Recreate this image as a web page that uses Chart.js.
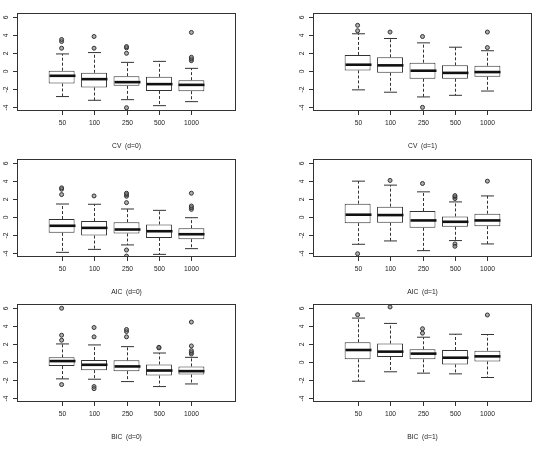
<!DOCTYPE html>
<html>
<head>
<meta charset="utf-8">
<script src="https://cdn.jsdelivr.net/npm/chart.js@4.4.1/dist/chart.umd.min.js"></script>
<style>
  html, body { margin: 0; padding: 0; background: #fff; }
  #wrap { position: relative; width: 538px; height: 449px; overflow: hidden; }
  canvas { position: absolute; }
</style>
</head>
<body>
<div id="wrap">
  <canvas id="p0" width="269" height="150" style="left:0;top:0"></canvas>
  <canvas id="p1" width="269" height="150" style="left:269px;top:0"></canvas>
  <canvas id="p2" width="269" height="150" style="left:0;top:146px"></canvas>
  <canvas id="p3" width="269" height="150" style="left:269px;top:146px"></canvas>
  <canvas id="p4" width="269" height="150" style="left:0;top:291px"></canvas>
  <canvas id="p5" width="269" height="150" style="left:269px;top:291px"></canvas>
</div>
<script>
// sample sizes on the x axis
const categories = ['50', '100', '250', '500', '1000'];
const yTicks = [-4, -2, 0, 2, 4, 6];
const titles = ['CV  (d=0)', 'CV  (d=1)', 'AIC  (d=0)', 'AIC  (d=1)', 'BIC  (d=0)', 'BIC  (d=1)'];

// each row: [lower whisker, q1, median, q3, upper whisker]
const cvD0Stats = [
  [-2.81, -1.37, -0.52, 0.04, 1.89],
  [-3.22, -1.81, -0.89, -0.19, 2.04],
  [-3.15, -1.63, -1.22, -0.56, 0.96],
  [-3.81, -2.19, -1.44, -0.63, 1.07],
  [-3.37, -2.22, -1.52, -1.00, 0.30]
];
const cvD0Outliers = [[2.52, 3.26, 3.48], [2.52, 3.81], [1.96, 2.56, 2.70, -4.04], [], [1.15, 1.33, 1.52, 4.26]];

const cvD1Stats = [
  [-2.07, 0.07, 0.70, 1.78, 4.11],
  [-2.33, -0.19, 0.63, 1.52, 3.59],
  [-2.85, -0.85, 0.04, 0.93, 3.11],
  [-2.67, -0.85, -0.20, 0.63, 2.63],
  [-2.20, -0.63, -0.11, 0.59, 2.24]
];
const cvD1Outliers = [[4.44, 5.04], [4.30], [3.81, -4.00], [], [2.59, 4.30]];

const aicD0Stats = [
  [-3.89, -1.74, -0.96, -0.22, 1.44],
  [-3.56, -2.04, -1.19, -0.44, 1.41],
  [-3.07, -1.81, -1.37, -0.56, 0.89],
  [-4.11, -2.30, -1.56, -0.81, 0.74],
  [-3.48, -2.44, -1.89, -1.22, -0.07]
];
const aicD0Outliers = [[2.48, 3.07, 3.22], [2.33], [1.59, 2.30, 2.48, 2.63, -3.63, -4.30], [], [0.85, 1.04, 1.22, 2.63]];

const aicD1Stats = [
  [-3.00, -0.67, 0.26, 1.48, 3.96],
  [-2.63, -0.63, 0.22, 1.15, 3.52],
  [-3.70, -1.19, -0.37, 0.67, 2.78],
  [-2.59, -1.07, -0.52, 0.07, 1.67],
  [-2.96, -1.00, -0.37, 0.37, 2.33]
];
const aicD1Outliers = [[-4.04], [4.04], [3.70], [2.04, 2.22, 2.37, -2.96, -3.22], [3.96]];

const bicD0Stats = [
  [-1.85, -0.44, 0.11, 0.52, 2.00],
  [-1.89, -0.89, -0.30, 0.22, 1.89],
  [-2.15, -1.00, -0.48, 0.19, 1.70],
  [-2.70, -1.48, -0.93, -0.26, 1.00],
  [-2.41, -1.37, -1.00, -0.48, 0.52]
];
const bicD0Outliers = [[2.41, 2.96, 5.93, -2.48], [2.78, 3.81, -2.70, -2.93], [2.78, 3.37, 3.59], [1.56, 1.63], [0.89, 1.07, 1.26, 1.78, 4.41]];

const bicD1Stats = [
  [-2.11, 0.30, 1.33, 2.19, 4.85],
  [-1.07, 0.56, 1.15, 2.04, 4.26],
  [-1.22, 0.30, 0.93, 1.41, 2.74],
  [-1.30, -0.26, 0.48, 1.33, 3.07],
  [-1.70, 0.07, 0.63, 1.26, 3.04]
];
const bicD1Outliers = [[5.22], [6.07], [3.19, 3.67], [], [5.19]];

const panelStats = [cvD0Stats, cvD1Stats, aicD0Stats, aicD1Stats, bicD0Stats, bicD1Stats];
const panelOutliers = [cvD0Outliers, cvD1Outliers, aicD0Outliers, aicD1Outliers, bicD0Outliers, bicD1Outliers];

const FONT = '6.7px "Liberation Sans", Arial, sans-serif';
const INK = '#222';

// whiskers, staples, medians, frame and axes, R boxplot style
const boxDecor = {
  id: 'boxDecor',
  afterDatasetsDraw(chart, args, opts) {
    const ctx = chart.ctx;
    const a = chart.chartArea;
    const xs = chart.scales.x, ys = chart.scales.y;
    const bars = chart.getDatasetMeta(0).data;
    const seg = (x1, y1, x2, y2) => { ctx.beginPath(); ctx.moveTo(x1, y1); ctx.lineTo(x2, y2); ctx.stroke(); };
    ctx.save();
    opts.stats.forEach((s, i) => {
      const cx = Math.round(xs.getPixelForValue(i + 1)) + 0.5;
      const w = bars[i].width;
      const yLo = ys.getPixelForValue(s[0]), yQ1 = ys.getPixelForValue(s[1]);
      const yMed = ys.getPixelForValue(s[2]);
      const yQ3 = ys.getPixelForValue(s[3]), yHi = ys.getPixelForValue(s[4]);
      ctx.strokeStyle = '#333';
      ctx.lineWidth = 1;
      ctx.setLineDash([3, 2]);
      seg(cx, yQ3, cx, yHi);
      seg(cx, yQ1, cx, yLo);
      ctx.setLineDash([]);
      seg(cx - w / 4, yHi, cx + w / 4, yHi);
      seg(cx - w / 4, yLo, cx + w / 4, yLo);
      ctx.strokeStyle = '#111';
      ctx.lineWidth = 2.6;
      seg(cx - w / 2, yMed, cx + w / 2, yMed);
    });

    ctx.strokeStyle = '#333';
    ctx.lineWidth = 1;
    ctx.strokeRect(a.left + 0.5, a.top + 0.5, a.right - a.left - 1, a.bottom - a.top - 1);

    ctx.fillStyle = INK;
    ctx.font = FONT;
    ctx.textAlign = 'center';
    ctx.textBaseline = 'middle';
    // x axis
    categories.forEach((c, i) => {
      const px = Math.round(xs.getPixelForValue(i + 1)) + 0.5;
      seg(px, a.bottom, px, a.bottom + 4);
      ctx.fillText(c, px, a.bottom + 12);
    });
    // y axis, labels parallel to the axis
    yTicks.forEach(v => {
      const py = Math.round(ys.getPixelForValue(v)) + 0.5;
      seg(a.left - 4, py, a.left, py);
      ctx.save();
      ctx.translate(a.left - 11, py);
      ctx.rotate(-Math.PI / 2);
      ctx.fillText(String(v), 0, 0);
      ctx.restore();
    });
    ctx.fillText(opts.title, (a.left + a.right) / 2, a.bottom + 35);
    ctx.restore();
  }
};

function makePanel(idx) {
  const stats = panelStats[idx];
  const outliers = panelOutliers[idx];
  const leftCol = idx % 2 === 0;
  const outPoints = [];
  outliers.forEach((list, i) => list.forEach(v => outPoints.push({ x: i + 1, y: v })));

  new Chart(document.getElementById('p' + idx), {
    type: 'bar',
    data: {
      datasets: [{
        type: 'bar',
        data: stats.map((s, i) => ({ x: i + 1, y: [s[1], s[3]] })),
        backgroundColor: '#fff',
        borderColor: '#333',
        borderWidth: 1,
        borderSkipped: false,
        barPercentage: 0.8,
        categoryPercentage: 1
      }, {
        type: 'scatter',
        data: outPoints,
        pointStyle: 'circle',
        pointRadius: 2,
        borderWidth: 1,
        borderColor: '#333',
        backgroundColor: 'rgba(120,120,120,0.6)'
      }]
    },
    options: {
      responsive: false,
      animation: false,
      events: [],
      layout: { padding: { left: leftCol ? 17 : 44, right: leftCol ? 33 : 6, top: 13, bottom: 39 } },
      scales: {
        x: { type: 'linear', min: 0.3, max: 5.7, display: false, ticks: { stepSize: 1, includeBounds: false } },
        y: { type: 'linear', min: -4.4, max: 6.4, display: false }
      },
      plugins: {
        legend: { display: false },
        tooltip: { enabled: false },
        boxDecor: { stats: stats, title: titles[idx] }
      }
    },
    plugins: [boxDecor]
  });
}

for (let i = 0; i < 6; i++) makePanel(i);
</script>
</body>
</html>
